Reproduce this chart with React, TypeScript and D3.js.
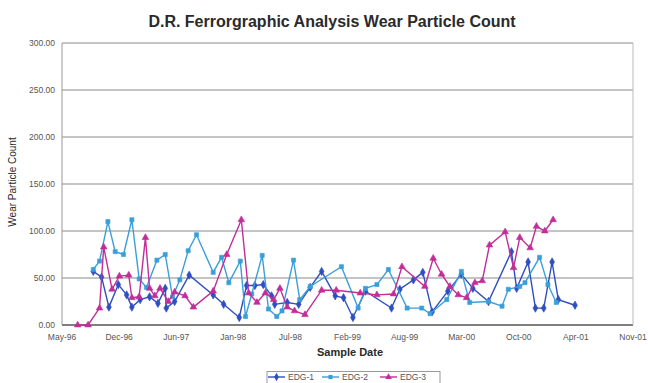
import * as d3 from "d3";

// sample dates as decimal years, counts
const tickYears = [1996.37, 1996.918, 1997.465, 1998.013, 1998.56, 1999.108, 1999.656, 2000.203, 2000.751, 2001.298, 2001.846];
const tickLabels = ["May-96", "Dec-96", "Jun-97", "Jan-98", "Jul-98", "Feb-99", "Aug-99", "Mar-00", "Oct-00", "Apr-01", "Nov-01"];
const yTicks = [0, 50, 100, 150, 200, 250, 300];

const edg1Dates = [
  1996.67, 1996.75, 1996.82, 1996.91, 1996.99, 1997.04, 1997.12, 1997.21, 1997.29, 1997.36, 1997.37, 1997.45,
  1997.59, 1997.82, 1997.92, 1998.07, 1998.14, 1998.22, 1998.3, 1998.38, 1998.41, 1998.53, 1998.64, 1998.75,
  1998.86, 1998.99, 1999.07, 1999.16, 1999.28, 1999.53, 1999.61, 1999.74, 1999.83, 1999.92, 2000.07, 2000.2,
  2000.31, 2000.46, 2000.68, 2000.73, 2000.84, 2000.91, 2000.99, 2001.07, 2001.13, 2001.29,
];
const edg1Counts = [
  57, 51, 19, 43, 32, 19, 27, 30, 23, 39, 18, 25,
  53, 32, 22, 8, 42, 42, 43, 31, 22, 24, 22, 40,
  57, 31, 29, 8, 36, 18, 38, 48, 56, 14, 36, 54,
  39, 25, 78, 39, 67, 18, 18, 67, 27, 21,
];

const edg2Dates = [
  1996.67, 1996.73, 1996.81, 1996.88, 1996.96, 1997.04, 1997.11, 1997.18, 1997.28, 1997.36, 1997.43, 1997.5,
  1997.58, 1997.66, 1997.82, 1997.9, 1997.97, 1998.08, 1998.13, 1998.19, 1998.29, 1998.35, 1998.43, 1998.48,
  1998.59, 1998.65, 1998.75, 1999.05, 1999.21, 1999.28, 1999.39, 1999.5, 1999.68, 1999.82, 1999.9, 2000.06,
  2000.2, 2000.28, 2000.46, 2000.59, 2000.65, 2000.76, 2000.81, 2000.95, 2001.03, 2001.11,
];
const edg2Counts = [
  59, 68, 110, 78, 75, 112, 49, 40, 69, 75, 30, 48,
  79, 96, 56, 72, 45, 68, 9, 33, 74, 17, 9, 15,
  69, 27, 41, 62, 18, 39, 43, 59, 18, 18, 12, 27,
  57, 24, 25, 20, 38, 41, 45, 72, 43, 24,
];

const edg3Dates = [
  1996.52, 1996.62, 1996.73, 1996.77, 1996.85, 1996.92, 1997.01, 1997.04, 1997.11, 1997.17, 1997.21, 1997.26,
  1997.31, 1997.39, 1997.45, 1997.55, 1997.63, 1997.82, 1997.95, 1998.09, 1998.16, 1998.24, 1998.32, 1998.4,
  1998.46, 1998.53, 1998.6, 1998.7, 1998.86, 1999.0, 1999.23, 1999.39, 1999.55, 1999.63, 1999.85, 1999.93,
  2000.01, 2000.09, 2000.17, 2000.25, 2000.33, 2000.4, 2000.47, 2000.62, 2000.7, 2000.76, 2000.86, 2000.92,
  2001.0, 2001.08,
];
const edg3Counts = [
  0, 0, 18, 83, 38, 52, 53, 29, 30, 93, 39, 31,
  39, 25, 35, 31, 19, 36, 75, 112, 34, 24, 34, 27,
  39, 19, 15, 11, 37, 37, 34, 32, 33, 62, 41, 71,
  54, 41, 32, 29, 45, 47, 85, 99, 61, 93, 82, 105,
  100, 112,
];

const seriesNames = ["EDG-1", "EDG-2", "EDG-3"];
const seriesColors = ["#2f4fc0", "#3a9fd9", "#c22d98"];

const W = 648;
const H = 383;
const font = "Arial, 'Liberation Sans', sans-serif";

export default function App() {
  const x = d3.scaleLinear().domain([tickYears[0], tickYears[tickYears.length - 1]]).range([62, 633]);
  const y = d3.scaleLinear().domain([0, 300]).range([325, 43]);

  const series = [
    { dates: edg1Dates, counts: edg1Counts, symbol: d3.symbolDiamond, size: 20 },
    { dates: edg2Dates, counts: edg2Counts, symbol: d3.symbolSquare, size: 17 },
    { dates: edg3Dates, counts: edg3Counts, symbol: d3.symbolTriangle, size: 19 },
  ];

  const line = d3
    .line<[number, number]>()
    .x((d) => x(d[0]))
    .y((d) => y(d[1]));

  const [x0, x1] = x.range();
  const [y0, y1] = y.range();

  const legendX = 267;
  const legendItems = [268, 322, 380];

  return (
    <svg width={W} height={H} style={{ position: "absolute", left: 0, top: 0, background: "#fff" }} fontFamily={font}>
      <text x={332} y={27} textAnchor="middle" fontSize={16} fontWeight="bold" fill="#2a2a2a">
        D.R. Ferrorgraphic Analysis Wear Particle Count
      </text>

      {yTicks.map((t) => (
        <g key={t}>
          <line x1={x0} x2={x1} y1={y(t)} y2={y(t)} stroke={t === 0 ? "#555" : "#8a8a8a"} strokeWidth={t === 0 ? 1.5 : 1} />
          <text x={55} y={y(t) + 3} textAnchor="end" fontSize={8.5} fill="#555">
            {t.toFixed(2)}
          </text>
        </g>
      ))}
      <line x1={x0} x2={x0} y1={y1} y2={y0} stroke="#999" />
      <line x1={x1} x2={x1} y1={y1} y2={y0} stroke="#bbb" />

      {tickYears.map((t, i) => (
        <text key={t} x={x(t)} y={340} textAnchor="middle" fontSize={8.5} fill="#555">
          {tickLabels[i]}
        </text>
      ))}

      <text x={350} y={356} textAnchor="middle" fontSize={11} fontWeight="bold" fill="#2a2a2a">
        Sample Date
      </text>
      <text transform={`translate(16,182) rotate(-90)`} textAnchor="middle" fontSize={10} fill="#2a2a2a">
        Wear Particle Count
      </text>

      {series.map((s, i) => {
        const pts = s.dates.map((d, j) => [d, s.counts[j]] as [number, number]);
        const sym = d3.symbol().type(s.symbol).size(s.size)() ?? "";
        return (
          <g key={i}>
            <path d={line(pts) ?? ""} fill="none" stroke={seriesColors[i]} strokeWidth={1.4} />
            {pts.map((p, j) => (
              <path key={j} d={sym} transform={`translate(${x(p[0])},${y(p[1])})`} fill={seriesColors[i]} stroke={seriesColors[i]} strokeWidth={0.6} />
            ))}
          </g>
        );
      })}

      <rect x={legendX} y={371.5} width={173} height={14} fill="#fff" stroke="#999" />
      {seriesNames.map((name, i) => {
        const lx = legendItems[i];
        const sym = d3.symbol().type(series[i].symbol).size(series[i].size)() ?? "";
        return (
          <g key={name}>
            <line x1={lx} x2={lx + 17} y1={377} y2={377} stroke={seriesColors[i]} strokeWidth={1.4} />
            <path d={sym} transform={`translate(${lx + 8.5},377)`} fill={seriesColors[i]} />
            <text x={lx + 20} y={380} fontSize={8.5} fill="#555">
              {name}
            </text>
          </g>
        );
      })}
    </svg>
  );
}
